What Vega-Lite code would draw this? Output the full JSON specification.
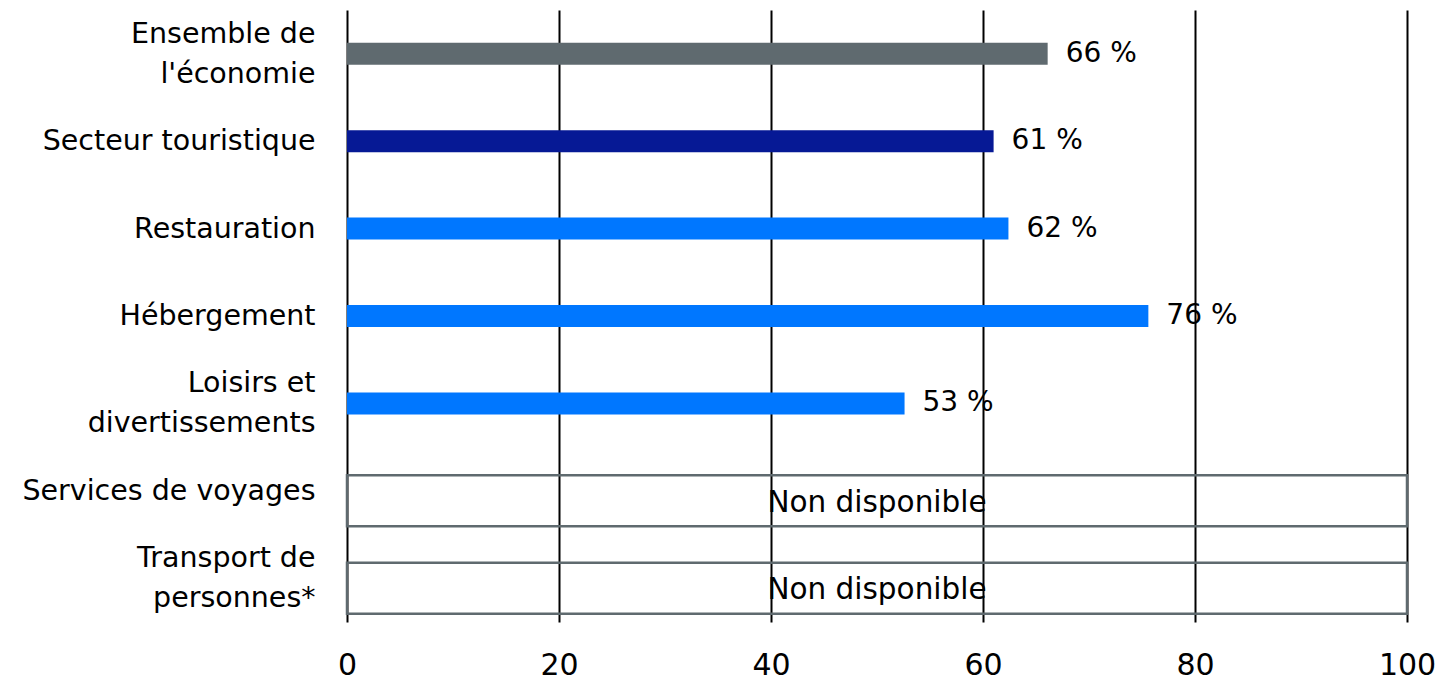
{
  "$schema": "https://vega.github.io/schema/vega-lite/v6.json",
  "width": 1060,
  "height": 612,
  "autosize": {"type": "none"},
  "padding": {"left": 347, "top": 10, "right": 30, "bottom": 58},
  "background": "white",
  "config": {"view": {"stroke": null}, "font": "DejaVu Sans"},
  "data": {
    "values": [
      {"categorie": "Ensemble de|l'économie", "groupe": "ensemble", "valeur": 66.1, "etiquette": "66 %"},
      {"categorie": "Secteur touristique", "groupe": "secteur", "valeur": 61.0, "etiquette": "61 %"},
      {"categorie": "Restauration", "groupe": "sous-secteur", "valeur": 62.4, "etiquette": "62 %"},
      {"categorie": "Hébergement", "groupe": "sous-secteur", "valeur": 75.6, "etiquette": "76 %"},
      {"categorie": "Loisirs et|divertissements", "groupe": "sous-secteur", "valeur": 52.6, "etiquette": "53 %"},
      {"categorie": "Services de voyages", "groupe": "nd", "valeur": null, "etiquette": "Non disponible"},
      {"categorie": "Transport de|personnes*", "groupe": "nd", "valeur": null, "etiquette": "Non disponible"}
    ]
  },
  "encoding": {
    "y": {
      "field": "categorie",
      "type": "nominal",
      "sort": null,
      "scale": {"paddingInner": 0, "paddingOuter": 0},
      "axis": {
        "title": null,
        "ticks": false,
        "domain": false,
        "labelExpr": "split(datum.label, '|')",
        "labelFontSize": 28.5,
        "labelColor": "#000000",
        "labelPadding": 32,
        "labelLineHeight": 40,
        "labelOffset": {"condition": {"test": "indexof(datum.label, '|') >= 0", "value": -20}, "value": 0},
        "labelLimit": 400
      }
    }
  },
  "layer": [
    {
      "transform": [{"filter": "datum.valeur != null"}],
      "mark": {"type": "bar", "size": 22},
      "encoding": {
        "x": {
          "field": "valeur",
          "type": "quantitative",
          "scale": {"domain": [0, 100], "nice": false},
          "axis": {
            "title": null,
            "values": [0, 20, 40, 60, 80, 100],
            "grid": true,
            "gridColor": "#000000",
            "gridWidth": 2,
            "gridOpacity": 1,
            "ticks": false,
            "domain": false,
            "labelFontSize": 30,
            "labelColor": "#000000",
            "labelPadding": 28,
            "labelFlush": false
          }
        },
        "color": {
          "field": "groupe",
          "type": "nominal",
          "scale": {"domain": ["ensemble", "secteur", "sous-secteur"], "range": ["#5f6a6f", "#061995", "#0077ff"]},
          "legend": null
        }
      }
    },
    {
      "transform": [{"filter": "datum.valeur != null"}],
      "mark": {"type": "text", "align": "left", "baseline": "middle", "dx": 18, "fontSize": 28, "color": "#000000"},
      "encoding": {
        "x": {"field": "valeur", "type": "quantitative"},
        "text": {"field": "etiquette"}
      }
    },
    {
      "transform": [{"filter": "datum.valeur == null"}, {"calculate": "0", "as": "debut"}, {"calculate": "100", "as": "fin"}],
      "mark": {"type": "bar", "size": 51, "yOffset": 10, "fill": "transparent", "stroke": "#5f6a6f", "strokeWidth": 2.5},
      "encoding": {
        "x": {"field": "debut", "type": "quantitative"},
        "x2": {"field": "fin"}
      }
    },
    {
      "transform": [{"filter": "datum.valeur == null"}, {"calculate": "50", "as": "milieu"}],
      "mark": {"type": "text", "align": "center", "baseline": "middle", "yOffset": 12, "fontSize": 29.5, "color": "#000000"},
      "encoding": {
        "x": {"field": "milieu", "type": "quantitative"},
        "text": {"field": "etiquette"}
      }
    }
  ]
}
